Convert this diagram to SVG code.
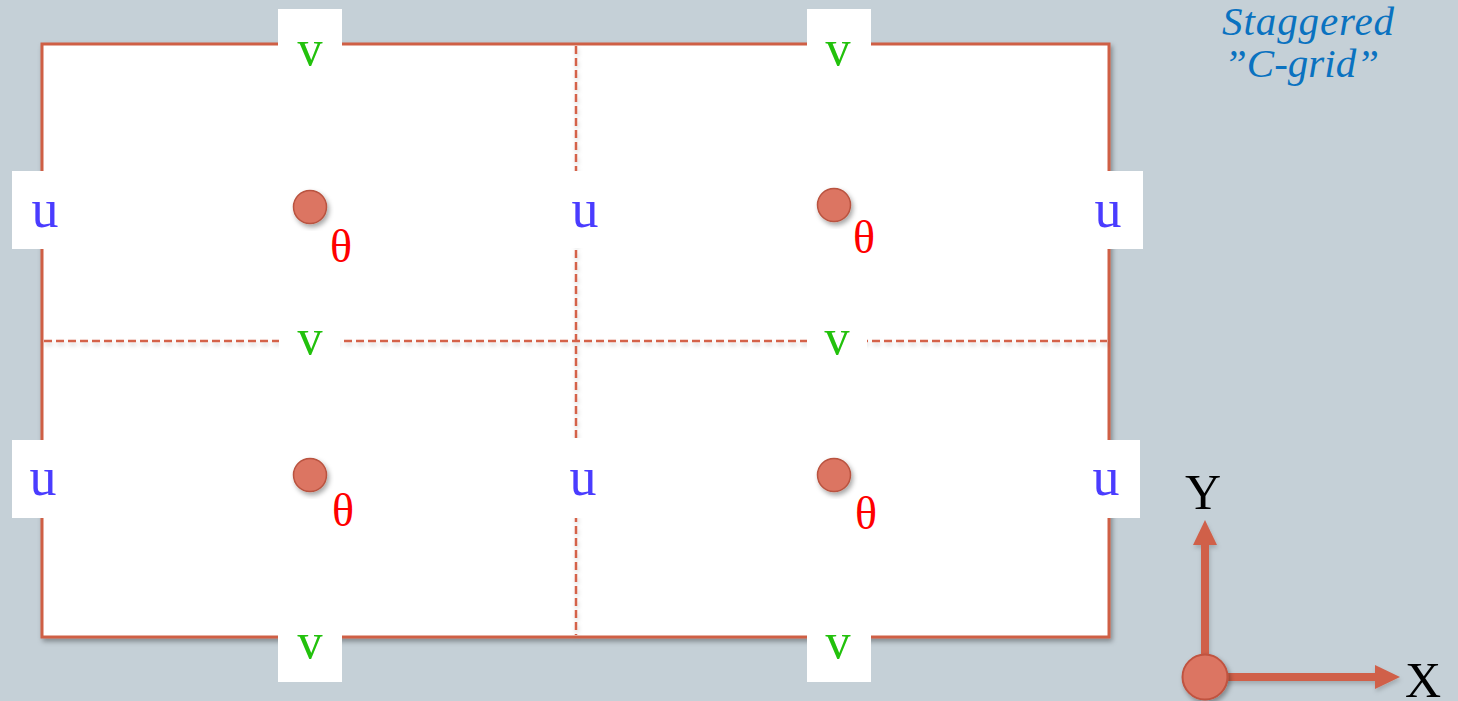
<svg xmlns="http://www.w3.org/2000/svg" width="1458" height="701" viewBox="0 0 1458 701">
  <defs>
    <filter id="sh" x="-10%" y="-10%" width="130%" height="130%">
      <feDropShadow dx="2" dy="3" stdDeviation="2.5" flood-color="#000" flood-opacity="0.35"/>
    </filter>
    <filter id="shl" filterUnits="userSpaceOnUse" x="0" y="0" width="1458" height="701">
      <feDropShadow dx="1" dy="3" stdDeviation="2" flood-color="#000" flood-opacity="0.18"/>
    </filter>
  </defs>
  <style>
    .box{fill:#ffffff}
    .u{font-family:"Liberation Serif",serif;font-size:54px;fill:#4a3cff;text-anchor:middle}
    .v{font-family:"Liberation Serif",serif;font-size:50px;fill:#22c10c;text-anchor:middle}
    .t{font-family:"Liberation Serif",serif;font-size:46px;fill:#ff0000;text-anchor:middle}
    .dot{fill:#dc7462;stroke:#b9533f;stroke-width:1.5}
    .dash{stroke:#d4624a;stroke-width:2.5;stroke-dasharray:8 4;fill:none}
    .ax{font-family:"Liberation Serif",serif;font-size:50px;fill:#000;text-anchor:middle}
    .title{font-family:"Liberation Serif",serif;font-style:italic;font-size:41px;fill:#0a72c0}
  </style>
  <rect x="0" y="0" width="1458" height="701" fill="#c5d0d7"/>

  <g id="grid">
    <rect x="42" y="44" width="1067" height="593" fill="#ffffff" stroke="#cf5e45" stroke-width="3" filter="url(#sh)"/>
    <g filter="url(#shl)">
      <line class="dash" x1="44" y1="341" x2="1107" y2="341"/>
      <line class="dash" x1="576" y1="46" x2="576" y2="635"/>
    </g>
  </g>

  <g id="title">
    <text class="title" x="1222" y="35" textLength="172">Staggered</text>
    <text class="title" x="1224" y="77">”C-grid”</text>
  </g>

  <g id="v-top-left"><rect class="box" x="278" y="9" width="64" height="72"/><text class="v" x="310" y="65">v</text></g>
  <g id="v-top-right"><rect class="box" x="807" y="9" width="64" height="72"/><text class="v" x="838" y="65">v</text></g>
  <g id="v-mid-left"><rect class="box" x="279" y="306" width="61" height="72"/><text class="v" x="310" y="354">v</text></g>
  <g id="v-mid-right"><rect class="box" x="807" y="306" width="60" height="72"/><text class="v" x="837" y="354">v</text></g>
  <g id="v-bot-left"><rect class="box" x="278" y="610" width="64" height="72"/><text class="v" x="310" y="658">v</text></g>
  <g id="v-bot-right"><rect class="box" x="807" y="610" width="64" height="72"/><text class="v" x="838" y="658">v</text></g>

  <g id="u-top-left"><rect class="box" x="12" y="171" width="64" height="78"/><text class="u" x="45" y="227">u</text></g>
  <g id="u-top-mid"><rect class="box" x="550" y="171" width="66" height="77"/><text class="u" x="585" y="227">u</text></g>
  <g id="u-top-right"><rect class="box" x="1079" y="171" width="64" height="78"/><text class="u" x="1108" y="227">u</text></g>
  <g id="u-bot-left"><rect class="box" x="12" y="440" width="64" height="78"/><text class="u" x="43" y="495">u</text></g>
  <g id="u-bot-mid"><rect class="box" x="548" y="438" width="66" height="80"/><text class="u" x="583" y="495">u</text></g>
  <g id="u-bot-right"><rect class="box" x="1076" y="440" width="64" height="78"/><text class="u" x="1106" y="495">u</text></g>

  <g id="theta-top-left"><circle class="dot" cx="310" cy="207" r="16.5" filter="url(#sh)"/><text class="t" x="341" y="262">θ</text></g>
  <g id="theta-top-right"><circle class="dot" cx="834" cy="205" r="16.5" filter="url(#sh)"/><text class="t" x="864" y="253">θ</text></g>
  <g id="theta-bot-left"><circle class="dot" cx="310" cy="475" r="16.5" filter="url(#sh)"/><text class="t" x="343" y="526">θ</text></g>
  <g id="theta-bot-right"><circle class="dot" cx="834" cy="475" r="16.5" filter="url(#sh)"/><text class="t" x="866" y="529">θ</text></g>

  <g id="connectors" filter="url(#shl)">
    <line x1="1205" y1="677" x2="1205" y2="543" stroke="#d0604a" stroke-width="8"/>
    <polygon points="1205,520 1217,545 1193,545" fill="#d0604a"/>
    <line x1="1205" y1="677" x2="1378" y2="677" stroke="#d0604a" stroke-width="8"/>
    <polygon points="1400,677 1375,665 1375,689" fill="#d0604a"/>
  </g>
  <g id="origin"><circle cx="1205" cy="677" r="22.5" fill="#dc7462" stroke="#c0533f" stroke-width="2" filter="url(#sh)"/></g>
  <g id="label-Y"><text class="ax" x="1203" y="509">Y</text></g>
  <g id="label-X"><text class="ax" x="1423" y="697">X</text></g>
</svg>
